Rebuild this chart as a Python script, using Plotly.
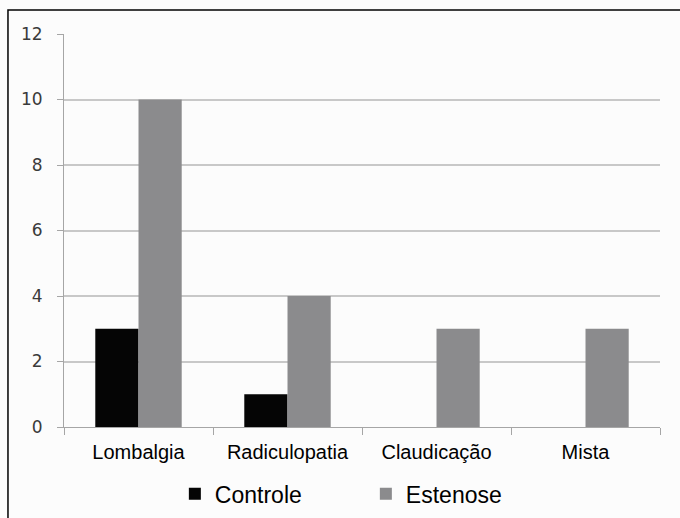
import plotly.graph_objects as go

# Categories and counts per group
categorias = ["Lombalgia", "Radiculopatia", "Claudicação", "Mista"]
controle = [3, 1, 0, 0]
estenose = [10, 4, 3, 3]
y_ticks = [0, 2, 4, 6, 8, 10, 12]

fig = go.Figure()
fig.add_trace(go.Bar(x=categorias, y=controle, name="Controle",
                     marker=dict(color="#050505", line=dict(width=0))))
fig.add_trace(go.Bar(x=categorias, y=estenose, name="Estenose",
                     marker=dict(color="#8b8b8d", line=dict(width=0))))

fig.update_layout(
    width=680, height=518,
    margin=dict(l=64, r=20, t=34, b=91, autoexpand=False),
    paper_bgcolor="#fcfcfc", plot_bgcolor="#fcfcfc",
    barmode="group", bargap=0.42, bargroupgap=0,
    showlegend=True,
    legend=dict(orientation="h", x=0.186, xanchor="left", y=-0.17, yanchor="middle",
                font=dict(family="Liberation Sans, Arial, sans-serif", size=23, color="#000"),
                entrywidth=146, entrywidthmode="pixels",
                bgcolor="rgba(0,0,0,0)", traceorder="normal"),
    xaxis=dict(showline=True, linecolor="#a6a6a6", linewidth=1,
               ticks="outside", ticklen=7, tickcolor="#a6a6a6", tickson="boundaries",
               tickfont=dict(family="Liberation Sans, Arial, sans-serif", size=20, color="#000"),
               ticklabelstandoff=7, showgrid=False, zeroline=False),
    yaxis=dict(range=[0, 12], tickvals=y_ticks, showline=True, linecolor="#a6a6a6", linewidth=1,
               ticks="outside", ticklen=6, tickcolor="#a6a6a6",
               showgrid=True, gridcolor="#c8c8c8", gridwidth=2, zeroline=False,
               tickfont=dict(family="DejaVu Sans, Verdana, sans-serif", size=17, color="#3a3a3a"),
               ticklabelstandoff=11),
    shapes=[dict(type="rect", xref="paper", yref="paper",
                 x0=-0.094, x1=1.3, y0=-0.6, y1=1.061,
                 line=dict(color="#000", width=1.5), fillcolor="rgba(0,0,0,0)", layer="above")],
)

fig.write_html("out.html")
